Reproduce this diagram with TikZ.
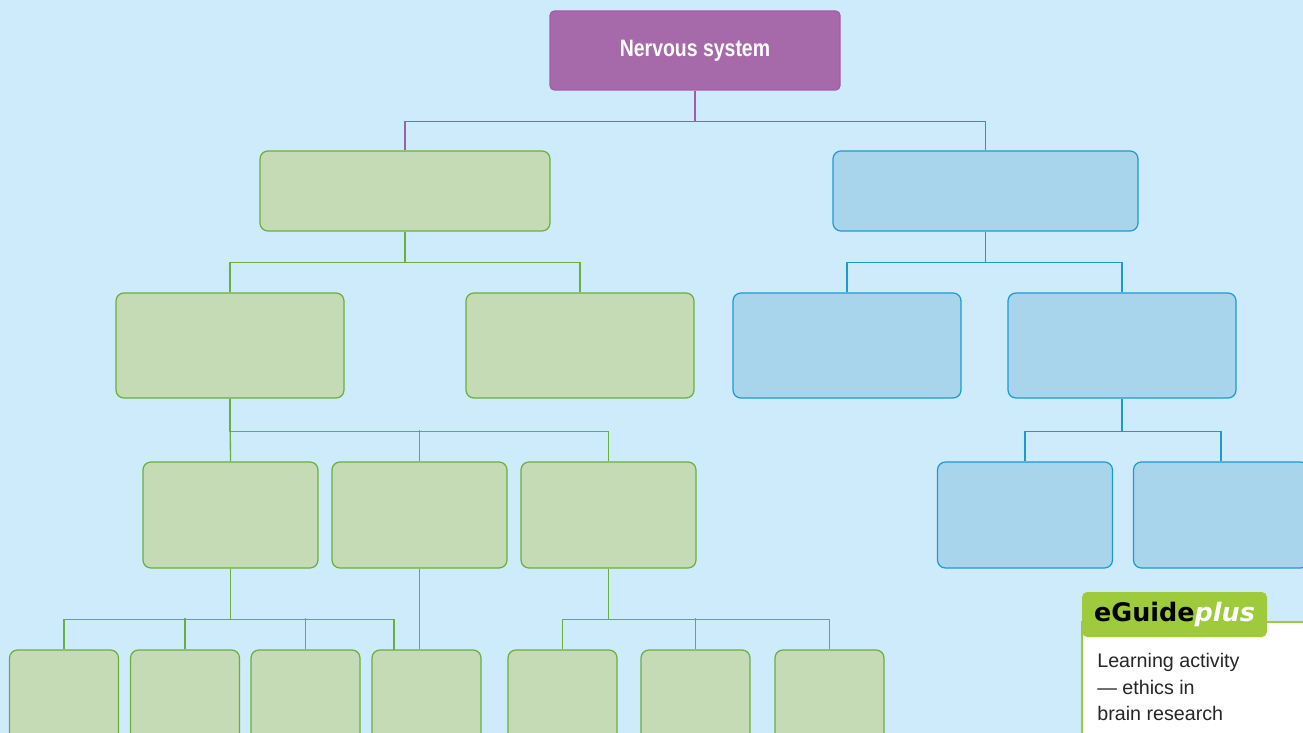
\documentclass[tikz,border=0pt]{standalone}
\usepackage{fontspec}
\setmainfont{Liberation Sans}
\newfontfamily\condfont[FakeStretch=0.82]{Liberation Sans}
\newfontfamily\guidefont{DejaVu Sans}
\usetikzlibrary{positioning}
\definecolor{sky}{HTML}{CDEBFB}
\definecolor{grnfill}{HTML}{C5DBB5}
\definecolor{grnline}{HTML}{6AAE3E}
\definecolor{blufill}{HTML}{A8D5EC}
\definecolor{bluline}{HTML}{1E9AD0}
\definecolor{purfill}{HTML}{A66AAB}
\definecolor{purline}{HTML}{A35DA6}
\definecolor{tabgrn}{HTML}{9DCB3B}
\newcommand{\pxl}{0.02cm}

\begin{document}
\begin{tikzpicture}[x=0.02cm,y=-0.02cm]
\tikzset{box/.style = {shape=rectangle, rounded corners=4.5pt, line width=0.7pt, inner sep=0pt}}
\tikzset{grn/.style = {box, draw=grnline, fill=grnfill}}
\tikzset{blu/.style = {box, draw=bluline, fill=blufill}}
\tikzset{lvlone/.style = {minimum width=290*\pxl, minimum height=80*\pxl}}
\tikzset{lvltwo/.style = {minimum width=228*\pxl, minimum height=105*\pxl}}
\tikzset{lvlthree/.style = {minimum width=175*\pxl, minimum height=106*\pxl}}
\tikzset{lvlfour/.style = {minimum width=109*\pxl, minimum height=100*\pxl}}
\tikzset{gline/.style = {draw=grnline, line width=0.75pt}}
\tikzset{bline/.style = {draw=bluline, line width=0.75pt}}
\tikzset{pline/.style = {draw=purline, line width=0.75pt}}
\useasboundingbox (0,0) rectangle (1303,733);
\clip (0,0) rectangle (1303,733);
\fill[sky] (0,0) rectangle (1303,733);
% boxes
\node[box, draw=purline, fill=purfill, rounded corners=2.5pt, minimum width=290*\pxl, minimum height=79*\pxl,
      text=white, font=\condfont\bfseries\fontsize{13.5}{15}\selectfont] (ns) at (695,50.5) {Nervous system};
\node[grn, lvlone] (l1g) at (405,191) {};
\node[blu, lvlone, minimum width=305*\pxl] (l1b) at (985.5,191) {};
\node[grn, lvltwo] (l2a) at (230,345.5) {};
\node[grn, lvltwo] (l2b) at (580,345.5) {};
\node[blu, lvltwo] (l2c) at (847,345.5) {};
\node[blu, lvltwo] (l2d) at (1122,345.5) {};
\node[grn, lvlthree] (l3a) at (230.5,515) {};
\node[grn, lvlthree] (l3b) at (419.5,515) {};
\node[grn, lvlthree] (l3c) at (608.5,515) {};
\node[blu, lvlthree] (l3d) at (1025,515) {};
\node[blu, lvlthree] (l3e) at (1221,515) {};
\node[grn, lvlfour] (l4a) at (64,700) {};
\node[grn, lvlfour] (l4b) at (185,700) {};
\node[grn, lvlfour] (l4c) at (305.5,700) {};
\node[grn, lvlfour] (l4d) at (426.5,700) {};
\node[grn, lvlfour] (l4e) at (562.5,700) {};
\node[grn, lvlfour] (l4f) at (695.5,700) {};
\node[grn, lvlfour] (l4g) at (829.5,700) {};
\coordinate (j4) at (394,650);
% connectors
\draw[pline] (ns.south) -- ++(0,31) -| (l1g.north);
\draw[pline] (ns.south) ++(0,31) -| (l1b.north);
\draw[gline] (l1g.south) -- ++(0,31) -| (l2a.north);
\draw[gline] (l1g.south) ++(0,31) -| (l2b.north);
\draw[bline] (l1b.south) -- ++(0,31) -| (l2c.north);
\draw[bline] (l1b.south) ++(0,31) -| (l2d.north);
\draw[gline] (l2a.south) -- ++(0,33) -| (l3c.north);
\draw[gline] (l2a.south) -- (l3a.north);
\draw[gline] (l3b.north) -- ++(0,-31);
\draw[bline] (l2d.south) -- ++(0,33) -| (l3d.north);
\draw[bline] (l2d.south) ++(0,33) -| (l3e.north);
\draw[gline] (l3a.south) -- ++(0,51) -| (l4a.north);
\draw[gline] (l3a.south) ++(0,51) -| (j4);
\draw[gline] (l4b.north) -- ++(0,-31);
\draw[gline] (l4c.north) -- ++(0,-31);
\draw[gline] (l3b.south) -- (l3b.south |- l4d.north);
\draw[gline] (l3c.south) -- ++(0,51) -| (l4e.north);
\draw[gline] (l3c.south) ++(0,51) -| (l4g.north);
\draw[gline] (l4f.north) -- ++(0,-31);
% eGuideplus panel
\draw[draw=tabgrn, line width=1.1pt, fill=white] (1082,760) -- (1082,622) -- (1330,622) -- (1330,760);
\node[box, draw=none, fill=tabgrn, rounded corners=3pt, minimum width=185*\pxl, minimum height=45*\pxl,
      font=\guidefont\bfseries\fontsize{14.5}{16}\selectfont] (eg) at (1174.5,614.5) {eGuide\textcolor{white}{\itshape plus}};
\node[anchor=north west, inner sep=0pt, align=left, text=black!85,
      font=\fontsize{11.2}{15.1}\selectfont] (act) at (1097,653) {Learning activity\\— ethics in\\brain research};
\end{tikzpicture}
\end{document}
